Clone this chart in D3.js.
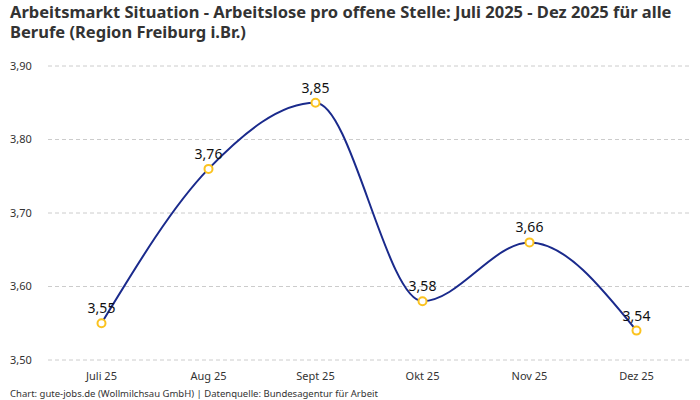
<!DOCTYPE html>
<meta charset="utf-8">
<html>
<head>
    <style>
        body { margin: 0; background: #fff; }
        svg { font-family: "Noto Sans", sans-serif; }
        .title { font-size: 16.5px; font-weight: bold; fill: #333; }
        .grid line { stroke: #ccc; stroke-dasharray: 4,3; }
        .tick-label { font-size: 11px; fill: #333; }
        .value-label { font-size: 14px; fill: #111; }
        .footer { font-size: 9.5px; fill: #333; }
        .line { fill: none; stroke: #1a2a8c; stroke-width: 2px; }
        .dot { fill: #fff; stroke: #fbc320; stroke-width: 2px; }
    </style>
    <script src="https://d3js.org/d3.v7.min.js"></script>
</head>
<body>
<svg id="svg" width="700" height="400"></svg>
<script>

    var months = ["Juli 25", "Aug 25", "Sept 25", "Okt 25", "Nov 25", "Dez 25"];
    var values = [3.55, 3.76, 3.85, 3.58, 3.66, 3.54];
    var yTicks = [3.5, 3.6, 3.7, 3.8, 3.9];

    var titleLines = [
        "Arbeitsmarkt Situation - Arbeitslose pro offene Stelle: Juli 2025 - Dez 2025 für alle",
        "Berufe (Region Freiburg i.Br.)"
    ];
    var footerText = "Chart: gute-jobs.de (Wollmilchsau GmbH) | Datenquelle: Bundesagentur für Arbeit";

    var fmt = function (v) { return v.toFixed(2).replace(".", ","); };

    var svg = d3.select("svg"),
        plotLeft = 48, plotRight = 690, plotTop = 66, plotBottom = 360;

    var x = d3.scalePoint()
        .domain(months)
        .range([plotLeft, plotRight])
        .padding(0.5);

    var y = d3.scaleLinear()
        .domain([3.5, 3.9])
        .range([plotBottom, plotTop]);

    svg.selectAll(".title")
        .data(titleLines)
        .enter().append("text")
        .attr("class", "title")
        .attr("x", 10)
        .attr("y", function (d, i) { return 18 + i * 20; })
        .text(function (d) { return d; });

    var grid = svg.append("g").attr("class", "grid");
    grid.selectAll("line")
        .data(yTicks)
        .enter().append("line")
        .attr("x1", plotLeft).attr("x2", plotRight)
        .attr("y1", function (d) { return y(d); })
        .attr("y2", function (d) { return y(d); });

    svg.selectAll(".ylab")
        .data(yTicks)
        .enter().append("text")
        .attr("class", "tick-label ylab")
        .attr("x", 10)
        .attr("y", function (d) { return y(d); })
        .attr("dy", "0.35em")
        .text(fmt);

    svg.selectAll(".xlab")
        .data(months)
        .enter().append("text")
        .attr("class", "tick-label xlab")
        .attr("x", function (d) { return x(d); })
        .attr("y", 380)
        .attr("text-anchor", "middle")
        .text(function (d) { return d; });

    var line = d3.line()
        .x(function (d, i) { return x(months[i]); })
        .y(function (d) { return y(d); })
        .curve(d3.curveMonotoneX);

    svg.append("path")
        .datum(values)
        .attr("class", "line")
        .attr("d", line);

    svg.selectAll(".dot")
        .data(values)
        .enter().append("circle")
        .attr("class", "dot")
        .attr("r", 4)
        .attr("cx", function (d, i) { return x(months[i]); })
        .attr("cy", function (d) { return y(d); });

    svg.selectAll(".value-label")
        .data(values)
        .enter().append("text")
        .attr("class", "value-label")
        .attr("x", function (d, i) { return x(months[i]); })
        .attr("y", function (d) { return y(d) - 10; })
        .attr("text-anchor", "middle")
        .text(fmt);

    svg.append("text")
        .attr("class", "footer")
        .attr("x", 10)
        .attr("y", 397)
        .text(footerText);

</script>
</body>
</html>
